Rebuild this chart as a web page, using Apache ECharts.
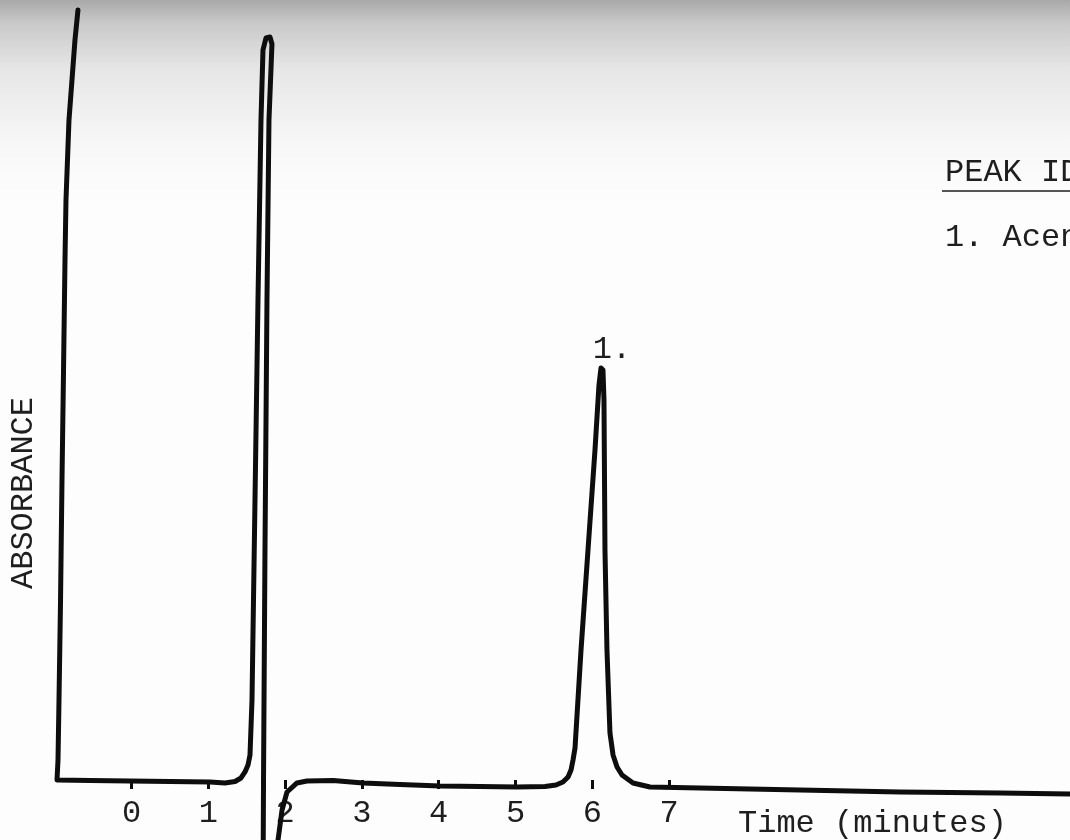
<!DOCTYPE html>
<html>
<head>
<meta charset="utf-8">
<script src="https://cdn.jsdelivr.net/npm/echarts@6/dist/echarts.min.js"></script>
<style>
  html, body { margin: 0; padding: 0; background: #fdfdfd; }
  #chart { width: 1070px; height: 840px; }
</style>
</head>
<body>
<div id="chart"></div>
<script>
// ---- Data (time in minutes, absorbance in arbitrary units) ----
const traceTime = [
  -0.697, -0.736, -0.775, -0.814, -0.853, -0.866, -0.885, -0.905, -0.924, -0.944, -0.957, -0.970,
  -0.540, -0.020, 0.501, 1.022, 1.217, 1.348, 1.426, 1.478, 1.517, 1.543, 1.569, 1.608, 1.647,
  1.686, 1.712, 1.751, 1.803, 1.829, 1.790, 1.764, 1.738, 1.719, 1.712, 1.855, 1.908, 1.960,
  2.025, 2.155, 2.285, 2.624, 3.014, 3.496, 4.017, 4.538, 5.020, 5.384, 5.527, 5.618, 5.684,
  5.723, 5.749, 5.775, 5.853, 5.944, 6.035, 6.087, 6.113, 6.139, 6.152, 6.165, 6.191, 6.230,
  6.270, 6.322, 6.387, 6.530, 6.751, 7.402, 8.704, 10.007, 11.309, 12.22
];
const traceAbsorbance = [
  98.72, 94.87, 89.74, 84.62, 74.36, 66.67, 52.56, 38.46, 23.08, 10.26, 2.56, 0.00,
  -0.06, -0.13, -0.19, -0.26, -0.38, -0.19, 0.26, 1.03, 1.92, 3.21, 10.26, 35.90, 61.54,
  84.62, 93.59, 95.13, 95.26, 94.36, 84.62, 61.54, 29.49, 0.00, -15.38, -16.03, -7.69, -3.85,
  -1.54, -0.38, -0.13, -0.06, -0.38, -0.58, -0.77, -0.83, -0.90, -0.83, -0.64, -0.26, 0.38,
  1.28, 2.56, 4.10, 16.67, 29.49, 42.31, 50.64, 52.82, 52.56, 48.72, 29.49, 16.67, 6.03,
  3.21, 1.67, 0.64, -0.38, -0.90, -1.03, -1.28, -1.54, -1.67, -1.79
];
const tickValues = [0, 1, 2, 3, 4, 5, 6, 7];
const tickLabels = ['0', '1', '2', '3', '4', '5', '6', '7'];
const peakNames = ['1.'];
const peakWindows = [[5, 7]];          // time window in which each labelled peak sits
const yAxisTitle = 'ABSORBANCE';
const xAxisTitle = 'Time (minutes)';
const legendTitle = 'PEAK IDENTIFICATION';
const legendItems = ['1. Acenaphthene'];

// ---- Build the options ----
const seriesData = traceTime.map((t, i) => [t, traceAbsorbance[i]]);
const peakMarks = peakNames.map((name, k) => {
  let best = -1;
  traceTime.forEach((t, i) => {
    if (t >= peakWindows[k][0] && t <= peakWindows[k][1] &&
        (best < 0 || traceAbsorbance[i] > traceAbsorbance[best])) best = i;
  });
  return { name: name, coord: [traceTime[best], traceAbsorbance[best]] };
});

const FONT = '"Liberation Mono", "DejaVu Sans Mono", monospace';
const INK = '#0d0d0d';
const TEXT = '#1e1e1e';

const chart = echarts.init(document.getElementById('chart'), null, { renderer: 'canvas' });
chart.setOption({
  backgroundColor: '#fdfdfd',
  animation: false,
  grid: { left: 54.7, right: 0, top: 0, bottom: 60, containLabel: false },
  xAxis: {
    type: 'value',
    min: -1, max: 12.22, interval: 1,
    offset: 3,
    axisLine: { show: false },
    splitLine: { show: false },
    axisTick: {
      show: true, customValues: tickValues, length: 9,
      lineStyle: { color: INK, width: 3 }
    },
    axisLabel: {
      show: true, customValues: tickValues,
      formatter: v => tickLabels[tickValues.indexOf(v)] ?? '',
      fontFamily: FONT, fontSize: 32, color: TEXT, margin: 15
    }
  },
  yAxis: { type: 'value', min: 0, max: 100, show: false },
  graphic: [
    {
      type: 'rect', z: -100, silent: true,
      shape: { x: 0, y: 0, width: 1070, height: 230 },
      style: {
        fill: new echarts.graphic.LinearGradient(0, 0, 0, 1, [
          { offset: 0, color: '#a9a9a9' },
          { offset: 0.1, color: '#c9c9c9' },
          { offset: 0.3, color: '#e6e6e6' },
          { offset: 0.6, color: '#f6f6f6' },
          { offset: 1, color: 'rgba(253,253,253,0)' }
        ])
      }
    },
    {
      type: 'text', x: 24, y: 493, rotation: Math.PI / 2, silent: true,
      style: { text: yAxisTitle, font: '32px ' + FONT, fill: TEXT, align: 'center', verticalAlign: 'middle' }
    },
    {
      type: 'text', x: 738, y: 824, silent: true,
      style: { text: xAxisTitle, font: '32px ' + FONT, fill: TEXT, align: 'left', verticalAlign: 'middle' }
    },
    {
      type: 'text', x: 945, y: 173, silent: true,
      style: { text: legendTitle, font: '32px ' + FONT, fill: TEXT, align: 'left', verticalAlign: 'middle' }
    },
    {
      type: 'line', silent: true,
      shape: { x1: 942, y1: 191, x2: 1070, y2: 191 },
      style: { stroke: TEXT, lineWidth: 1.6 }
    },
    {
      type: 'text', x: 945, y: 238, silent: true,
      style: { text: legendItems[0], font: '32px ' + FONT, fill: TEXT, align: 'left', verticalAlign: 'middle' }
    }
  ],
  series: [{
    type: 'line',
    data: seriesData,
    showSymbol: false,
    symbol: 'none',
    clip: false,
    smooth: false,
    lineStyle: { color: INK, width: 5, cap: 'round', join: 'round' },
    markPoint: {
      symbol: 'circle', symbolSize: 0, silent: true,
      label: {
        show: true, position: 'top', distance: 2, offset: [11, 0],
        formatter: p => p.name,
        fontFamily: FONT, fontSize: 32, color: TEXT
      },
      data: peakMarks
    }
  }]
});
</script>
</body>
</html>
